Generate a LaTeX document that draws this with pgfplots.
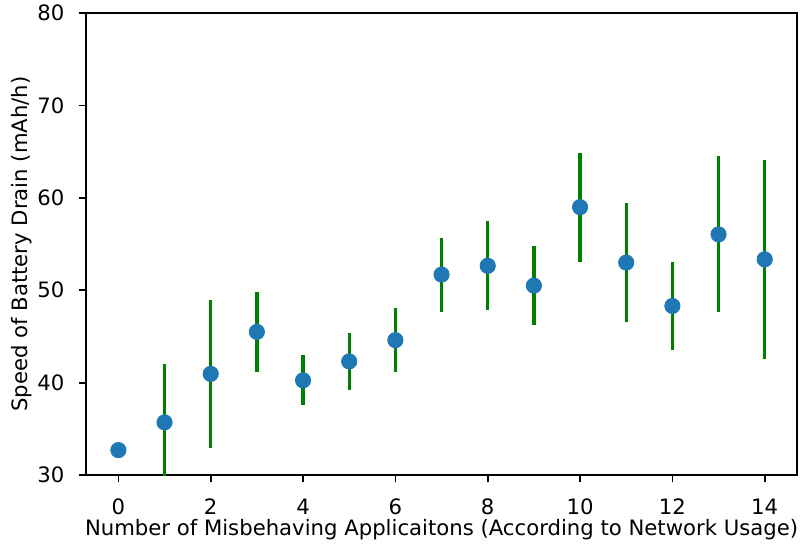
\documentclass[border=0pt]{standalone}
\usepackage{pgfplots}
\pgfplotsset{compat=1.18}
\usepackage{fontspec}
\setmainfont{DejaVu Sans}
\definecolor{mblue}{HTML}{1F77B4}
\definecolor{mgreen}{HTML}{008000}
\pgfplotstableread{
x y e
0 32.7 0
1 35.7 6.3
2 40.95 8.0
3 45.5 4.35
4 40.25 2.7
5 42.3 3.05
6 44.6 3.5
7 51.7 4.0
8 52.65 4.8
9 50.5 4.3
10 59.0 5.9
11 53.0 6.45
12 48.3 4.8
13 56.05 8.45
14 53.35 10.75
}\datatable
\begin{document}
\begin{tikzpicture}
\begin{axis}[
  at={(0,0)}, anchor=south west,
  width=335.4pt, height=217.9pt, scale only axis,
  xmin=-0.7, xmax=14.7, ymin=30, ymax=80,
  xtick={0,2,...,14}, ytick={30,40,...,80},
  tick align=outside, xtick pos=bottom, ytick pos=left,
  major tick length=3.5pt,
  tick style={black, line width=0.8pt},
  axis line style={line width=0.8pt},
  /pgf/number format/assume math mode=true,
  tick label style={font=\fontsize{10}{12}\selectfont, inner sep=0pt},
  yticklabel style={anchor=east, xshift=-6.5pt},
  xticklabel style={anchor=north, yshift=-7.5pt},
  label style={font=\fontsize{10}{12}\selectfont},
  xlabel={Number of Misbehaving Applicaitons (According to Network Usage)},
  ylabel={Speed of Battery Drain (mAh/h)},
  every axis x label/.style={at={([yshift=-28.3pt]axis description cs:0.5,0)}, anchor=base, inner sep=0pt},
  every axis y label/.style={at={([xshift=-25.5pt]axis description cs:0,0.5)}, rotate=90, anchor=south, inner sep=0pt},
]
\addplot[forget plot, draw=none, mark=none,
  error bars/.cd, y dir=both, y explicit, error mark=none,
  error bar style={draw=mgreen, line width=1.55pt}]
  table[x=x, y=y, y error=e] {\datatable};
\addplot[only marks, mark=*, mark size=3.6pt, mark options={fill=mblue, draw=mblue}]
  table[x=x, y=y] {\datatable};
\end{axis}
\pgfresetboundingbox
\path[use as bounding box] (-40.6pt,-32.5pt) rectangle (336.8pt,224.1pt);
\end{tikzpicture}
\end{document}
